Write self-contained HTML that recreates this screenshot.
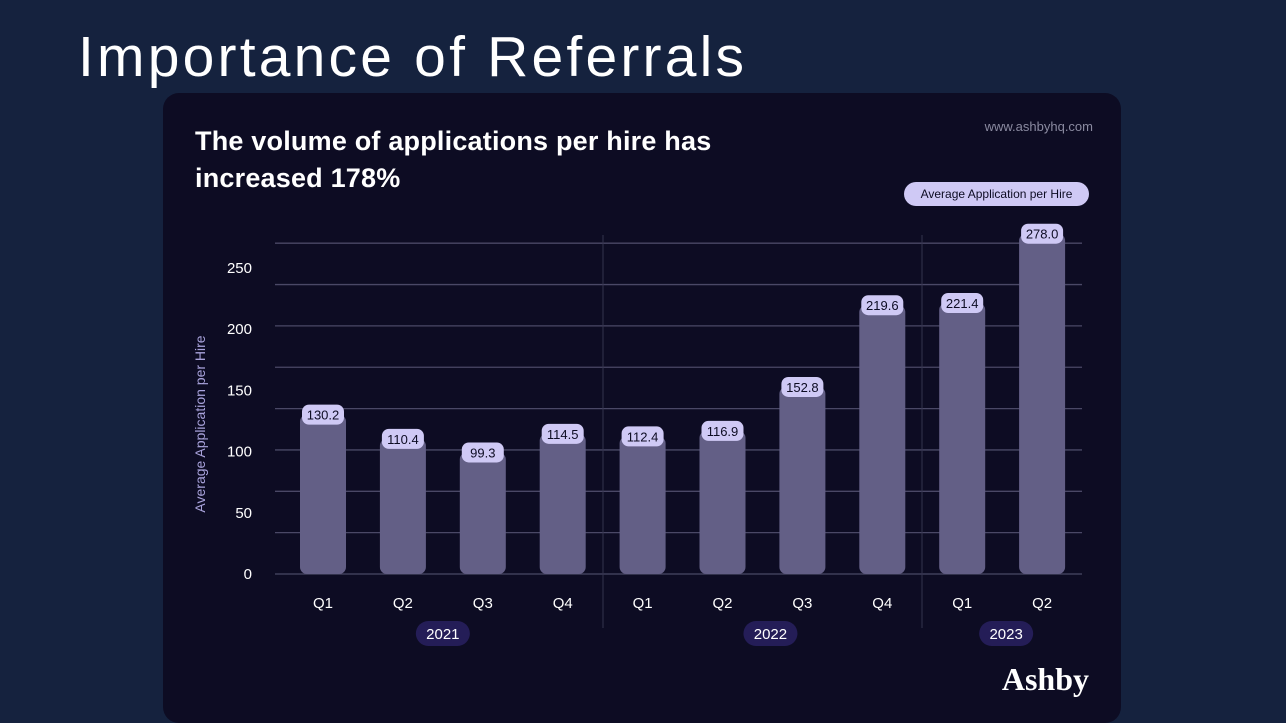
<!DOCTYPE html>
<html><head><meta charset="utf-8"><style>
body{margin:0;width:1286px;height:722px;background:#15223e;overflow:hidden;font-family:"Liberation Sans",sans-serif;position:relative}
#slide-title{position:absolute;left:78px;top:24px;font-size:57px;color:#fff;letter-spacing:3.2px;font-weight:normal}
#card{position:absolute;left:163px;top:93px;width:958px;height:630px;background:#0d0c23;border-radius:16px}
</style></head><body>
<div id="slide-title">Importance of Referrals</div>
<div id="card"></div>
<svg id="chart" width="1286" height="722" style="position:absolute;left:0;top:0"></svg>
<script>
const categories=["Q1","Q2","Q3","Q4","Q1","Q2","Q3","Q4","Q1","Q2"];
const values=[130.2,110.4,99.3,114.5,112.4,116.9,152.8,219.6,221.4,278.0];
const valueLabels=["130.2","110.4","99.3","114.5","112.4","116.9","152.8","219.6","221.4","278.0"];
const yTicks=[0,50,100,150,200,250];
const years=["2021","2022","2023"];
const yearSpans=[[0,3],[4,7],[8,9]];
const svg=document.getElementById('chart');
const NS='http://www.w3.org/2000/svg';
function el(t,a,p){const e=document.createElementNS(NS,t);for(const k in a)e.setAttribute(k,a[k]);(p||svg).appendChild(e);return e;}
const y0=574,pxPer=1.224;
const y=v=>y0-v*pxPer;
const x=i=>323+i*79.9;
const F='"Liberation Sans",sans-serif';
let t=el('text',{x:195,y:150,fill:'#fff','font-size':27,'font-weight':'bold','font-family':F,'letter-spacing':'0.2'});t.textContent='The volume of applications per hire has';

t=el('text',{x:195,y:187,fill:'#fff','font-size':27,'font-weight':'bold','font-family':F,'letter-spacing':'0.2'});t.textContent='increased 178%';

t=el('text',{x:1093,y:131,fill:'#8a8aa0','font-size':13,'font-family':F,'text-anchor':'end'});t.textContent='www.ashbyhq.com';

let g=el('g',{});
el('rect',{x:904,y:182,width:185,height:24,rx:12,fill:'#cfc9f5'},g);
t=el('text',{x:996.5,y:198,fill:'#0d0c23','font-size':12,'font-family':F,'text-anchor':'middle'},g);t.textContent='Average Application per Hire';
for(let k=0;k<=8;k++){const gy=y0-k*41.35;const l=el('line',{x1:275,x2:1082,y1:gy,y2:gy,stroke:'#4a4866','stroke-width':1.3});
}
yTicks.forEach(v=>{const e=el('text',{x:252,y:y(v)+5,fill:'#fff','font-size':15,'font-family':F,'text-anchor':'end'});e.textContent=v;
});
t=el('text',{x:0,y:0,fill:'#a9a3dc','font-size':14,'font-family':F,'text-anchor':'middle',transform:'translate(205,424) rotate(-90)'});t.textContent='Average Application per Hire';

[603,922].forEach(sx=>{const l=el('line',{x1:sx,x2:sx,y1:235,y2:628,stroke:'#34334d','stroke-width':1});
});
values.forEach((v,i)=>{const b=el('rect',{x:x(i)-23,y:y(v),width:46,height:y0-y(v),rx:7,fill:'#635f86'});

const pg=el('g',{});
el('rect',{x:x(i)-21,y:y(v)-10,width:42,height:20,rx:7,fill:'#cfc9f5'},pg);
const lt=el('text',{x:x(i),y:y(v)+5,fill:'#0d0c23','font-size':13,'font-family':F,'text-anchor':'middle'},pg);lt.textContent=valueLabels[i];
const c=el('text',{x:x(i),y:608,fill:'#fff','font-size':15,'font-family':F,'text-anchor':'middle'});c.textContent=categories[i];
});
years.forEach((yr,j)=>{const cx=(x(yearSpans[j][0])+x(yearSpans[j][1]))/2+(j==1?8:(j==2?4:0));
const yg=el('g',{});
el('rect',{x:cx-27,y:621,width:54,height:25,rx:12.5,fill:'#241d57'},yg);
const e=el('text',{x:cx,y:639,fill:'#fff','font-size':15,'font-family':F,'text-anchor':'middle'},yg);e.textContent=yr;});
t=el('text',{x:1089,y:690,fill:'#fff','font-size':32,'font-weight':'bold','font-family':'"Liberation Serif",serif','text-anchor':'end'});t.textContent='Ashby';

</script>
</body></html>
